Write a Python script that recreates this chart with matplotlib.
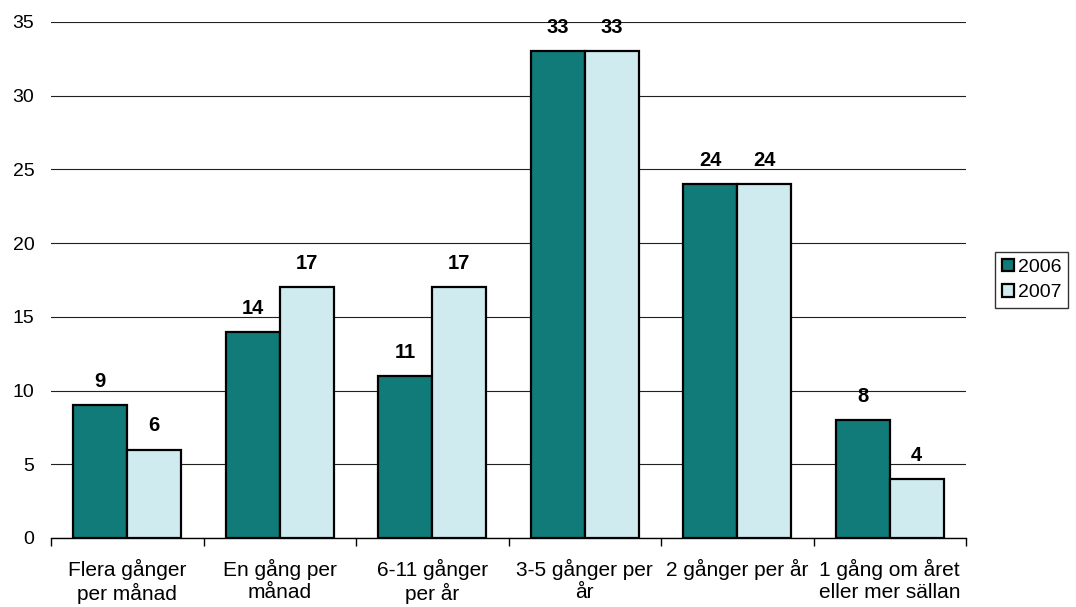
import matplotlib
matplotlib.use("Agg")
import matplotlib.pyplot as plt
import numpy as np

plt.rcParams['font.family'] = ['Liberation Sans', 'DejaVu Sans']

categories = ["Flera gånger\nper månad", "En gång per\nmånad", "6-11 gånger\nper år",
              "3-5 gånger per\når", "2 gånger per år", "1 gång om året\neller mer sällan"]
series_names = ["2006", "2007"]
values_2006 = [9, 14, 11, 33, 24, 8]
values_2007 = [6, 17, 17, 33, 24, 4]
yticks = [0, 5, 10, 15, 20, 25, 30, 35]

colors = ["#107B79", "#CFEBEF"]

fig = plt.figure(figsize=(10.76, 6.07), dpi=100)
ax = fig.add_axes([0.0474, 0.1137, 0.8504, 0.8501])

x = np.arange(len(categories))
w = 0.354
for i, (vals, name, c) in enumerate(zip([values_2006, values_2007], series_names, colors)):
    ax.bar(x + (i - 0.5) * w, vals, w, color=c, edgecolor="black", linewidth=1.6,
           label=name, zorder=3)
    for xi, v in zip(x + (i - 0.5) * w, vals):
        ax.annotate(str(v), (xi, v), xytext=(0, 13), textcoords="offset points",
                    ha="center", va="baseline", fontsize=14.5, fontweight="bold",
                    zorder=4)

ax.set_xlim(-0.5, len(categories) - 0.5)
ax.set_ylim(0, 35)
ax.set_yticks(yticks)
ax.set_yticklabels([str(t) for t in yticks], fontsize=14)
ax.grid(axis="y", color="#202020", linewidth=0.8, zorder=0)
ax.tick_params(axis="y", length=0, pad=12)

ax.set_xticks(x)
ax.set_xticklabels(categories, fontsize=15, linespacing=1.2)
ax.tick_params(axis="x", length=0, pad=15)
ax.set_xticks(np.arange(-0.5, len(categories)), minor=True)
ax.tick_params(axis="x", which="minor", length=6, width=1, direction="out")

for s in ["left", "right", "top"]:
    ax.spines[s].set_visible(False)
ax.spines["bottom"].set_linewidth(1)

leg = ax.legend(loc="center left", bbox_to_anchor=(1.032, 0.5), fontsize=14,
                frameon=True, fancybox=False, edgecolor="black",
                handlelength=0.6, handleheight=0.6, handletextpad=0.2,
                borderpad=0.35, labelspacing=0.45, borderaxespad=0)
leg.get_frame().set_linewidth(1)

fig.savefig("out.png", dpi=100)
